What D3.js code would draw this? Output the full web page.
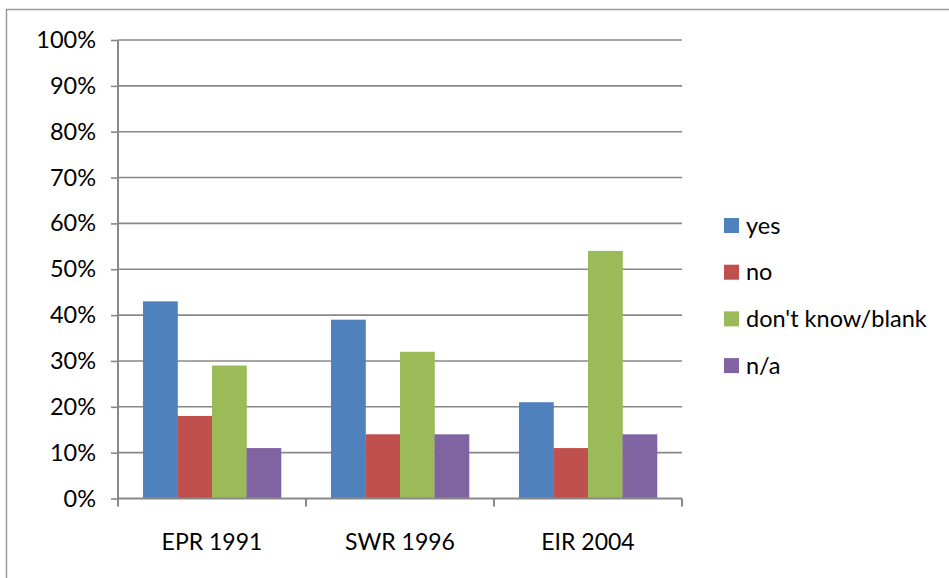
<!DOCTYPE html>
<html><head><meta charset="utf-8">
<script src="https://cdn.jsdelivr.net/npm/d3@7"></script>
<style>body{margin:0;background:#fff}svg{display:block}text{font-family:Lato,"Open Sans",sans-serif;fill:#000}</style>
</head><body><svg id="c" width="949" height="578"></svg>
<script>
const categories = ["EPR 1991", "SWR 1996", "EIR 2004"];
const seriesNames = ["yes", "no", "don't know/blank", "n/a"];
const yesValues = [43, 39, 21];
const noValues = [18, 14, 11];
const dkValues = [29, 32, 54];
const naValues = [11, 14, 14];
const yTicks = [0,10,20,30,40,50,60,70,80,90,100];
const colors = ["#4F81BD", "#C0504D", "#9BBB59", "#8064A2"];
const seriesValues = [yesValues, noValues, dkValues, naValues];

const svg = d3.select("#c");
svg.append("rect").attr("x",6.5).attr("y",9.5).attr("width",960).attr("height",600)
  .attr("fill","none").attr("stroke","#9a9a9a").attr("stroke-width",1.5);

const L=118, R=682, T=40, B=498.5;
const x0 = d3.scaleBand().domain(categories).range([L,R]).paddingInner(0.266).paddingOuter(0.133);
const x1 = d3.scaleBand().domain(seriesNames).range([0,x0.bandwidth()]);
const y = d3.scaleLinear().domain([0,100]).range([B,T]);

// gridlines
svg.append("g").selectAll("line").data(yTicks.filter(d=>d>0)).join("line")
  .attr("x1",L).attr("x2",R).attr("y1",d=>y(d)).attr("y2",d=>y(d))
  .attr("stroke","#888").attr("stroke-width",1.6);

// bars
const groups = svg.append("g").selectAll("g").data(categories).join("g")
  .attr("transform",c=>`translate(${x0(c)},0)`);
groups.selectAll("rect").data((c,i)=>seriesNames.map((s,j)=>({s,j,v:seriesValues[j][i]}))).join("rect")
  .attr("x",d=>x1(d.s)).attr("width",x1.bandwidth()+0.3)
  .attr("y",d=>y(d.v)).attr("height",d=>y(0)-y(d.v)).attr("fill",d=>colors[d.j]);

// y axis
const yAxis = d3.axisLeft(y).tickValues(yTicks).tickSize(7).tickPadding(15).tickFormat(d=>d+"%");
const ya = svg.append("g").attr("transform",`translate(${L},0)`).call(yAxis);
ya.select(".domain").remove();
ya.append("line").attr("x1",0).attr("x2",0).attr("y1",T).attr("y2",B+7).attr("stroke","#888").attr("stroke-width",2);
ya.selectAll(".tick line").attr("stroke","#888").attr("stroke-width",1.6);
ya.selectAll(".tick text").attr("font-size",23.5).attr("fill","#000").attr("font-family","Lato");

// x axis
const boundaries = categories.map(c=>x0(c)-x0.step()*x0.paddingInner()/2).concat([R]);
svg.append("line").attr("x1",L).attr("x2",R).attr("y1",B).attr("y2",B).attr("stroke","#888").attr("stroke-width",2);
svg.append("g").selectAll("line").data(boundaries).join("line")
  .attr("x1",d=>d).attr("x2",d=>d).attr("y1",B).attr("y2",B+8).attr("stroke","#888").attr("stroke-width",2);
svg.append("g").selectAll("text").data(categories).join("text")
  .attr("x",c=>x0(c)+x0.bandwidth()/2).attr("y",550).attr("text-anchor","middle")
  .attr("font-size",23).text(d=>d);

// legend
const lg = svg.append("g").selectAll("g").data(seriesNames).join("g")
  .attr("transform",(d,i)=>`translate(724,${218+i*46.7})`);
lg.append("rect").attr("width",15).attr("height",15).attr("fill",(d,i)=>colors[i]);
lg.append("text").attr("x",22).attr("y",15.5).attr("font-size",23.5).text(d=>d);
</script></body></html>
